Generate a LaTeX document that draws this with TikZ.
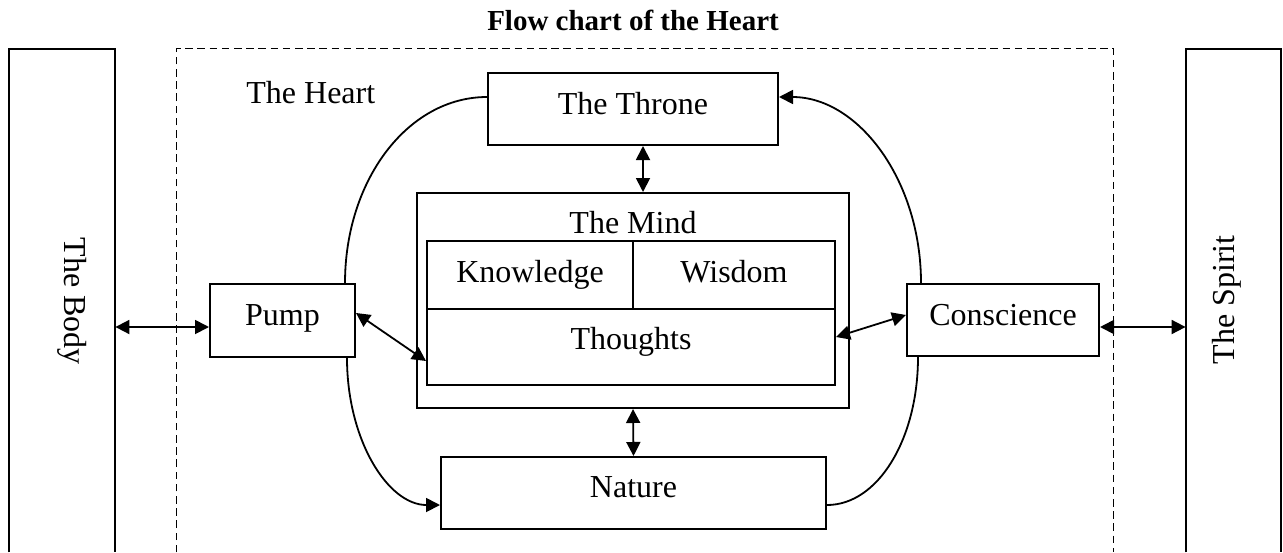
\documentclass[tikz,border=0pt]{standalone}
\usepackage{fontspec}
\setmainfont{Liberation Serif}
\usetikzlibrary{arrows.meta}
\newcommand\myfont{\fontsize{16pt}{19pt}\selectfont}
\newcommand\mytitlefont{\fontsize{14.5pt}{17pt}\selectfont\bfseries}
\tikzset{
  box/.style={draw, line width=1pt, inner sep=0pt, font=\myfont, text height=11pt, text depth=6pt},
  frameslot/.style={inner sep=0pt, draw=none},
  frameline/.style={line width=1pt},
  heartline/.style={line width=0.75pt, dash pattern=on 3.8pt off 2.3pt},
  plaintext/.style={inner sep=0pt, font=\myfont},
  tip/.tip={Triangle[length=7pt,width=7pt]},
  dbl/.style={line width=0.9pt, tip-tip},
  one/.style={line width=0.9pt, -tip},
  plainline/.style={line width=0.9pt}
}
\begin{document}
\begin{tikzpicture}[x=0.5pt,y=-0.5pt]
\useasboundingbox (0,0) rectangle (1283,552);
% title
\node[inner sep=0pt, font=\mytitlefont, anchor=base] (title) at (633,30) {Flow chart of the Heart};
% outer frames
\node[frameslot, minimum width=53pt, minimum height=251.5pt] (body) at (62,300.5) {};
\draw[frameline] (body.south west) |- (body.north east) -- (body.south east);
\node[plaintext, rotate=-90, anchor=base] (bodytext) at (64,301) {The Body};
\node[frameslot, minimum width=47.5pt, minimum height=251.5pt] (spirit) at (1233.5,300.5) {};
\draw[frameline] (spirit.south west) |- (spirit.north east) -- (spirit.south east);
\node[plaintext, rotate=90, anchor=base] (spirittext) at (1234,300) {The Spirit};
\node[frameslot, minimum width=468pt, minimum height=251.5pt] (heart) at (645,300.5) {};
\draw[heartline] (heart.south west) |- (heart.north east) -- (heart.south east);
\node[plaintext, anchor=base west] (hearttext) at (246,103) {The Heart};
% boxes
\node[box, minimum width=145pt, minimum height=36pt] (throne) at (633,109) {The Throne};
\node[draw, line width=1pt, inner sep=0pt, minimum width=216pt, minimum height=107.5pt] (mind) at (633,300.5) {};
\node[plaintext, anchor=base] (mindtext) at (633,233) {The Mind};
\node[box, text depth=4pt, minimum width=103pt, minimum height=34pt] (knowledge) at (530,275) {Knowledge};
\node[box, text depth=4pt, minimum width=101pt, minimum height=34pt] (wisdom) at (734,275) {Wisdom};
\node[box, text depth=9pt, minimum width=204pt, minimum height=38pt] (thoughts) at (631,347) {Thoughts};
\node[box, minimum width=72.5pt, minimum height=36.5pt] (pump) at (282.5,320.5) {Pump};
\node[box, minimum width=96pt, minimum height=36pt] (conscience) at (1003,320) {Conscience};
\node[box, text depth=7pt, minimum width=192.5pt, minimum height=36pt] (nature) at (633.5,493) {Nature};
% straight connectors
\coordinate (pb) at ([yshift=-3.25pt]pump.west);
\draw[dbl] (body.east |- pb) -- (pb);
\coordinate (cs) at ([yshift=-3.5pt]conscience.east);
\draw[dbl] (cs) -- (cs -| spirit.west);
\coordinate (tm) at ([xshift=5pt]throne.south);
\draw[dbl] (tm) -- (tm |- mind.north);
\draw[dbl] (mind.south) -- (nature.north);
\draw[dbl] ([yshift=3.75pt]pump.east) -- ([yshift=-7pt]thoughts.west);
\draw[dbl] ([yshift=2.5pt]conscience.west) -- ([yshift=5pt]thoughts.east);
% curved cycle
\coordinate (tl) at ([yshift=6pt]throne.west);
\coordinate (tr) at ([yshift=6pt]throne.east);
\coordinate (pt) at ([xshift=31.25pt]pump.north);
\coordinate (pbm) at ([xshift=32.25pt]pump.south);
\coordinate (nl) at ([yshift=-6pt]nature.west);
\coordinate (nr) at ([yshift=-6pt]nature.east);
\coordinate (cb) at ([xshift=-42.5pt]conscience.south);
\coordinate (ct) at ([xshift=-41pt]conscience.north);
\draw[plainline] (tl) .. controls +(-79,0) and +(0,-103) .. (pt);
\draw[one] (pbm) .. controls +(0,82) and +(-52,0) .. (nl);
\draw[plainline] (nr) .. controls +(51,0) and +(0,82) .. (cb);
\draw[one] (ct) .. controls +(0,-103) and +(79,0) .. (tr);
\end{tikzpicture}
\end{document}
